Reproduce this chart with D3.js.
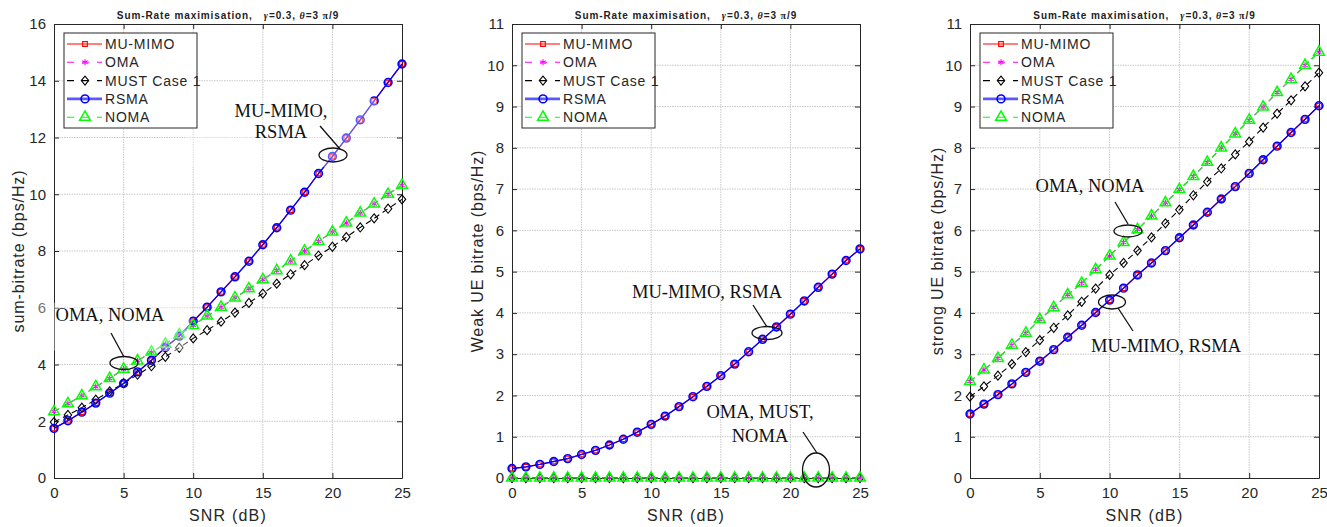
<!DOCTYPE html>
<html>
<head>
<meta charset="utf-8">
<script src="https://cdn.jsdelivr.net/npm/d3@7/dist/d3.min.js"></script>
<style>
  body { margin: 0; background: #fff; }
  svg { display: block; font-family: "Liberation Sans", Arial, sans-serif; }
</style>
</head>
<body>
<svg id="chart" width="1327" height="527"></svg>
<script>
// SNR axis (dB)
const snr = [0, 1, 2, 3, 4, 5, 6, 7, 8, 9, 10, 11, 12, 13, 14, 15, 16, 17, 18, 19, 20, 21, 22, 23, 24, 25];

// Sum-bitrate (bps/Hz)
const sumMuMimo = [1.75, 2.02, 2.32, 2.64, 2.99, 3.33, 3.74, 4.15, 4.6, 5.0, 5.53, 6.02, 6.56, 7.09, 7.64, 8.22, 8.82, 9.44, 10.07, 10.73, 11.33, 11.98, 12.62, 13.29, 13.94, 14.59];
const sumOma = [2.34, 2.62, 2.9, 3.22, 3.51, 3.84, 4.13, 4.44, 4.72, 5.05, 5.38, 5.71, 6.02, 6.35, 6.67, 6.99, 7.31, 7.65, 8.0, 8.34, 8.67, 8.99, 9.34, 9.66, 10.0, 10.32];
const sumMust = [1.97, 2.22, 2.48, 2.76, 3.05, 3.34, 3.64, 3.94, 4.27, 4.59, 4.92, 5.21, 5.51, 5.83, 6.17, 6.5, 6.85, 7.18, 7.5, 7.84, 8.15, 8.49, 8.83, 9.15, 9.49, 9.82];
const sumRsma = [1.75, 2.02, 2.32, 2.64, 2.99, 3.33, 3.74, 4.15, 4.6, 5.0, 5.53, 6.02, 6.56, 7.09, 7.64, 8.22, 8.82, 9.44, 10.07, 10.73, 11.33, 11.98, 12.62, 13.29, 13.94, 14.59];
const sumNoma = [2.34, 2.62, 2.9, 3.22, 3.51, 3.84, 4.13, 4.44, 4.72, 5.05, 5.38, 5.71, 6.02, 6.35, 6.67, 6.99, 7.31, 7.65, 8.0, 8.34, 8.67, 8.99, 9.34, 9.66, 10.0, 10.32];

// Weak UE bitrate (bps/Hz)
const weakMuMimo = [0.23, 0.27, 0.33, 0.4, 0.47, 0.57, 0.67, 0.8, 0.94, 1.11, 1.3, 1.5, 1.73, 1.97, 2.22, 2.48, 2.76, 3.06, 3.36, 3.66, 3.97, 4.29, 4.62, 4.94, 5.27, 5.55];
const weakOma = [0, 0, 0, 0, 0, 0, 0, 0, 0, 0, 0, 0, 0, 0, 0, 0, 0, 0, 0, 0, 0, 0, 0, 0, 0, 0];
const weakMust = [0, 0, 0, 0, 0, 0, 0, 0, 0, 0, 0, 0, 0, 0, 0, 0, 0, 0, 0, 0, 0, 0, 0, 0, 0, 0];
const weakRsma = [0.23, 0.27, 0.33, 0.4, 0.47, 0.57, 0.67, 0.8, 0.94, 1.11, 1.3, 1.5, 1.73, 1.97, 2.22, 2.48, 2.76, 3.06, 3.36, 3.66, 3.97, 4.29, 4.62, 4.94, 5.27, 5.55];
const weakNoma = [0, 0, 0, 0, 0, 0, 0, 0, 0, 0, 0, 0, 0, 0, 0, 0, 0, 0, 0, 0, 0, 0, 0, 0, 0, 0];

// Strong UE bitrate (bps/Hz)
const strongMuMimo = [1.55, 1.79, 2.02, 2.28, 2.56, 2.83, 3.11, 3.41, 3.7, 4.01, 4.31, 4.6, 4.92, 5.21, 5.51, 5.82, 6.13, 6.44, 6.76, 7.06, 7.38, 7.71, 8.04, 8.37, 8.69, 9.02];
const strongOma = [2.34, 2.62, 2.9, 3.22, 3.51, 3.84, 4.13, 4.44, 4.72, 5.05, 5.38, 5.71, 6.02, 6.35, 6.67, 6.99, 7.31, 7.65, 8.0, 8.34, 8.67, 8.99, 9.34, 9.66, 10.0, 10.32];
const strongMust = [1.97, 2.22, 2.48, 2.76, 3.05, 3.34, 3.64, 3.94, 4.27, 4.59, 4.92, 5.21, 5.51, 5.83, 6.17, 6.5, 6.85, 7.18, 7.5, 7.84, 8.15, 8.49, 8.83, 9.15, 9.49, 9.82];
const strongRsma = [1.55, 1.79, 2.02, 2.28, 2.56, 2.83, 3.11, 3.41, 3.7, 4.01, 4.31, 4.6, 4.92, 5.21, 5.51, 5.82, 6.13, 6.44, 6.76, 7.06, 7.38, 7.71, 8.04, 8.37, 8.69, 9.02];
const strongNoma = [2.34, 2.62, 2.9, 3.22, 3.51, 3.84, 4.13, 4.44, 4.72, 5.05, 5.38, 5.71, 6.02, 6.35, 6.67, 6.99, 7.31, 7.65, 8.0, 8.34, 8.67, 8.99, 9.34, 9.66, 10.0, 10.32];

const seriesNames = ['MU-MIMO', 'OMA', 'MUST Case 1', 'RSMA', 'NOMA'];
const xTicks = [0, 5, 10, 15, 20, 25];
const yTicksSum = [0, 2, 4, 6, 8, 10, 12, 14, 16];
const yTicksUe = [0, 1, 2, 3, 4, 5, 6, 7, 8, 9, 10, 11];

const styles = {
    'MU-MIMO': { color: '#ff0000', dash: null, marker: 'square' },
    'OMA': { color: '#ff00ff', dash: '6,4', marker: 'asterisk' },
    'MUST Case 1': { color: '#000000', dash: '6,4', marker: 'diamond' },
    'RSMA': { color: '#0000ff', dash: null, marker: 'circle' },
    'NOMA': { color: '#00ff00', dash: '6,4', marker: 'triangle' }
};

const panels = [
    {
        left: 54, right: 402, yMax: 16, yTicks: yTicksSum, yLabel: 'sum-bitrate (bps/Hz)', yLabelX: 18,
        series: [sumMuMimo, sumOma, sumMust, sumRsma, sumNoma],
        boxes: [[185, 98, 192, 69], [35, 303, 155, 48]],
        notes: [
            { lines: ['MU-MIMO,', 'RSMA'], x: 281, y: 117, gap: 21, ex: 333, ey: 155, rx: 14, ry: 7, l: [320, 126, 340, 149] },
            { lines: ['OMA, NOMA'], x: 110, y: 321, gap: 0, ex: 124, ey: 363, rx: 14, ry: 6.5, l: [111, 333, 124, 357] }
        ]
    },
    {
        left: 512, right: 860, yMax: 11, yTicks: yTicksUe, yLabel: 'Weak UE bitrate (bps/Hz)', yLabelX: 477,
        series: [weakMuMimo, weakOma, weakMust, weakRsma, weakNoma],
        boxes: [],
        notes: [
            { lines: ['MU-MIMO, RSMA'], x: 707, y: 298, gap: 0, ex: 767, ey: 333, rx: 15, ry: 6.5, l: [753, 305, 767, 327] },
            { lines: ['OMA, MUST,', 'NOMA'], x: 760, y: 418, gap: 24, ex: 816, ey: 470, rx: 13.5, ry: 17, l: [803, 432, 817, 453] }
        ]
    },
    {
        left: 970, right: 1319, yMax: 11, yTicks: yTicksUe, yLabel: 'strong UE bitrate (bps/Hz)', yLabelX: 937,
        series: [strongMuMimo, strongOma, strongMust, strongRsma, strongNoma],
        boxes: [[1110, 333, 140, 49]],
        notes: [
            { lines: ['OMA, NOMA'], x: 1090, y: 192, gap: 0, ex: 1128, ey: 231, rx: 14, ry: 6, l: [1115, 202, 1128, 224] },
            { lines: ['MU-MIMO, RSMA'], x: 1166, y: 352, gap: 0, ex: 1112, ey: 302, rx: 13.5, ry: 7, l: [1118, 308, 1133, 331] }
        ]
    }
];

const plotTop = 24, plotBottom = 478;
const svg = d3.select('#chart');

function drawMarker(g, type, color, cx, cy) {
    if (type === 'circle') {
        g.append('circle').attr('cx', cx).attr('cy', cy).attr('r', 3.9)
            .attr('fill', 'none').attr('stroke', color).attr('stroke-width', 1.6);
        return;
    }
    const sym = { square: d3.symbolSquare, asterisk: d3.symbolAsterisk, diamond: d3.symbolSquare, triangle: d3.symbolTriangle }[type];
    const size = { square: 22, asterisk: 26, diamond: 34, triangle: 50 }[type];
    g.append('path')
        .attr('d', d3.symbol().type(sym).size(size)())
        .attr('transform', `translate(${cx},${cy})` + (type === 'diamond' ? ' scale(0.9,1.1) rotate(45)' : ''))
        .attr('fill', 'none').attr('stroke', color).attr('stroke-width', type === 'triangle' ? 1.5 : 1.1);
}

panels.forEach(p => {
    const x = d3.scaleLinear().domain([0, 25]).range([p.left, p.right]);
    const y = d3.scaleLinear().domain([0, p.yMax]).range([plotBottom, plotTop]);
    const g = svg.append('g');

    // grid
    g.append('g').selectAll('line').data(xTicks.slice(1, -1)).enter().append('line')
        .attr('x1', d => x(d)).attr('x2', d => x(d)).attr('y1', plotTop).attr('y2', plotBottom)
        .attr('stroke', '#c8c8c8').attr('stroke-dasharray', '1.5,1');
    g.append('g').selectAll('line').data(p.yTicks.slice(1, -1)).enter().append('line')
        .attr('y1', d => y(d)).attr('y2', d => y(d)).attr('x1', p.left).attr('x2', p.right)
        .attr('stroke', '#c8c8c8').attr('stroke-dasharray', '1.5,1');

    // axes
    const axB = g.append('g').attr('transform', `translate(0,${plotBottom})`)
        .call(d3.axisBottom(x).tickValues(xTicks).tickSizeInner(-5).tickSizeOuter(0).tickPadding(9));
    const axT = g.append('g').attr('transform', `translate(0,${plotTop})`)
        .call(d3.axisTop(x).tickValues(xTicks).tickSizeInner(-5).tickSizeOuter(0).tickFormat(''));
    const axL = g.append('g').attr('transform', `translate(${p.left},0)`)
        .call(d3.axisLeft(y).tickValues(p.yTicks).tickSizeInner(-5).tickSizeOuter(0).tickPadding(8));
    const axR = g.append('g').attr('transform', `translate(${p.right},0)`)
        .call(d3.axisRight(y).tickValues(p.yTicks).tickSizeInner(-5).tickSizeOuter(0).tickFormat(''));
    [axB, axT, axL, axR].forEach(a => {
        a.select('.domain').attr('stroke', '#262626');
        a.selectAll('line').attr('stroke', '#262626');
        a.selectAll('text').attr('fill', '#262626').style('font-size', '15px')
            .style('font-family', '"Liberation Sans", Arial, sans-serif');
    });

    // series
    const line = d3.line().x((d, i) => x(snr[i])).y(d => y(d));
    seriesNames.forEach((name, k) => {
        const st = styles[name];
        const data = p.series[k];
        g.append('path').datum(data).attr('d', line)
            .attr('fill', 'none').attr('stroke', st.color).attr('stroke-width', name === 'RSMA' ? 1.3 : 1.1)
            .attr('stroke-dasharray', st.dash);
        const mg = g.append('g');
        data.forEach((v, i) => drawMarker(mg, st.marker, st.color, x(snr[i]), y(v)));
    });

    // pasted annotation boxes
    p.boxes.forEach(b => {
        g.append('rect').attr('x', b[0]).attr('y', b[1]).attr('width', b[2]).attr('height', b[3])
            .attr('fill', '#ffffff').attr('opacity', 0.35);
    });

    // annotations
    p.notes.forEach(n => {
        n.lines.forEach((t, i) => {
            g.append('text').attr('x', n.x).attr('y', n.y + i * n.gap)
                .attr('text-anchor', 'middle')
                .style('font-family', '"Liberation Serif", "Times New Roman", serif')
                .style('font-size', '18.5px').attr('fill', '#111')
                .text(t);
        });
        g.append('ellipse').attr('cx', n.ex).attr('cy', n.ey).attr('rx', n.rx).attr('ry', n.ry)
            .attr('fill', 'none').attr('stroke', '#111').attr('stroke-width', 1.3);
        g.append('line').attr('x1', n.l[0]).attr('y1', n.l[1]).attr('x2', n.l[2]).attr('y2', n.l[3])
            .attr('stroke', '#111').attr('stroke-width', 1.3);
    });

    // title
    const title = g.append('text').attr('x', (p.left + p.right) / 2).attr('y', 19)
        .attr('text-anchor', 'middle').style('font-size', '10px').style('font-weight', 'bold')
        .style('letter-spacing', '0.9px').attr('fill', '#222');
    title.append('tspan').text('Sum-Rate maximisation,\u00a0\u00a0\u00a0');
    title.append('tspan').style('font-style', 'italic').style('font-family', '"Liberation Serif", serif').text('γ');
    title.append('tspan').text('=0.3,\u00a0');
    title.append('tspan').style('font-style', 'italic').style('font-family', '"Liberation Serif", serif').text('θ');
    title.append('tspan').text('=3\u00a0');
    title.append('tspan').style('font-family', '"Liberation Serif", serif').text('π');
    title.append('tspan').text('/9');

    // axis labels
    g.append('text').attr('x', (p.left + p.right) / 2).attr('y', 521)
        .attr('text-anchor', 'middle').style('font-size', '16px').style('letter-spacing', '1.2px')
        .attr('fill', '#262626').text('SNR (dB)');
    g.append('text').attr('transform', `translate(${p.yLabelX},${(plotTop + plotBottom) / 2}) rotate(-90)`)
        .attr('text-anchor', 'middle').attr('dy', '0.35em').style('font-size', '16px').style('letter-spacing', '0.9px')
        .attr('fill', '#262626').text(p.yLabel);

    // legend
    const lx = p.left + 10, ly = plotTop + 9;
    const lg = g.append('g');
    lg.append('rect').attr('x', lx).attr('y', ly).attr('width', 133).attr('height', 95)
        .attr('fill', '#fff').attr('stroke', '#262626').attr('stroke-width', 1);
    seriesNames.forEach((name, k) => {
        const st = styles[name];
        const yy = ly + 11 + k * 18.3;
        lg.append('line').attr('x1', lx + 3).attr('x2', lx + 38).attr('y1', yy).attr('y2', yy)
            .attr('stroke', st.color).attr('stroke-width', name === 'RSMA' ? 2.6 : 1.1)
            .attr('stroke-opacity', name === 'RSMA' ? 0.65 : 1)
            .attr('stroke-dasharray', st.dash ? '7,8' : null);
        drawMarker(lg, st.marker, st.color, lx + 21, yy);
        lg.append('text').attr('x', lx + 41).attr('y', yy).attr('dy', '0.36em')
            .style('font-size', '14px').style('letter-spacing', '0.8px').attr('fill', '#262626').text(name);
    });
});
</script>
</body>
</html>
